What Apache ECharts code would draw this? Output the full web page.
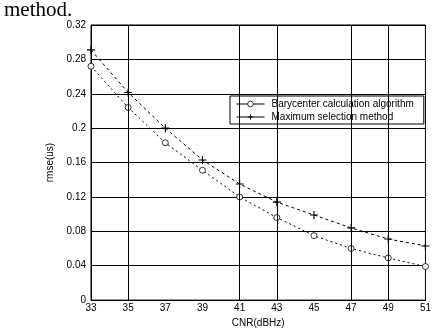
<!DOCTYPE html>
<html><head><meta charset="utf-8">
<script src="https://cdn.jsdelivr.net/npm/echarts@6/dist/echarts.min.js"></script>
<style>html,body{margin:0;padding:0;background:#fff}#c{width:434px;height:333px}</style>
</head><body><div id="c"></div>
<script>
var cnr = [33, 35, 37, 39, 41, 43, 45, 47, 49, 51];
var barycenter = [0.272, 0.224, 0.183, 0.151, 0.120, 0.096, 0.075, 0.060, 0.049, 0.039];
var maxSelection = [0.291, 0.2415, 0.200, 0.163, 0.135, 0.114, 0.099, 0.084, 0.071, 0.063];
var vGridAt = [35, 41, 43, 47, 49];
var yTicks = ['0', '0.04', '0.08', '0.12', '0.16', '0.2', '0.24', '0.28', '0.32'];

function pairs(xs, ys) { return xs.map(function (x, i) { return [x, ys[i]]; }); }
var plusPath = 'path://M-0.7,-5H0.7V-0.7H5V0.7H0.7V5H-0.7V0.7H-5V-0.7H-0.7Z';
var font = 'Liberation Sans, Arial, sans-serif';

var chart = echarts.init(document.getElementById('c'));
chart.setOption({
  animation: false,
  backgroundColor: '#fff',
  title: {
    text: 'method.', left: -1, top: -5,
    textStyle: { fontFamily: 'Liberation Serif, Times New Roman, serif', fontSize: 21, fontWeight: 'normal', color: '#000' }
  },
  grid: { left: 91, right: 4, top: 25, bottom: 27, show: true, borderColor: '#000', borderWidth: 1 },
  legend: {
    orient: 'vertical', left: 230, top: 96,
    backgroundColor: '#fff', borderColor: '#000', borderWidth: 1, borderRadius: 0,
    padding: [3, 10, 2, 6], itemGap: 3, itemWidth: 28, itemHeight: 7,
    lineStyle: { type: 'solid', width: 1 },
    itemStyle: { borderWidth: 0.8 },
    textStyle: { fontFamily: font, fontSize: 10, color: '#000', padding: [0, 0, 0, 2] },
    data: [{ name: 'Barycenter calculation algorithm' }, { name: 'Maximum selection method' }]
  },
  xAxis: {
    type: 'value', min: 33, max: 51, interval: 2,
    name: 'CNR(dBHz)', nameLocation: 'middle', nameGap: 16,
    nameTextStyle: { fontFamily: font, fontSize: 10, color: '#000' },
    axisLine: { show: true, lineStyle: { color: '#000', width: 1 } },
    axisTick: { show: false }, splitLine: { show: false },
    axisLabel: { fontFamily: font, fontSize: 10, color: '#000', margin: 3 }
  },
  yAxis: {
    type: 'value', min: 0, max: 0.32, interval: 0.04,
    name: 'rmse(us)', nameLocation: 'middle', nameGap: 25,
    nameTextStyle: { fontFamily: font, fontSize: 10, color: '#000' },
    axisLine: { show: true, lineStyle: { color: '#000', width: 1 } },
    axisTick: { show: false },
    splitLine: { show: true, lineStyle: { color: '#000', width: 1 } },
    axisLabel: { fontFamily: font, fontSize: 10, color: '#000', margin: 5,
      formatter: function (v) { return yTicks[Math.round(v / 0.04)]; } }
  },
  series: [
    {
      name: 'Barycenter calculation algorithm', type: 'line',
      data: pairs(cnr, barycenter),
      symbol: 'circle', symbolSize: 6,
      itemStyle: { color: '#fff', borderColor: '#000', borderWidth: 0.8 },
      lineStyle: { color: '#000', width: 1, type: [2, 3] },
      markLine: {
        silent: true, symbol: 'none', label: { show: false },
        lineStyle: { color: '#000', width: 1, type: 'solid' },
        data: vGridAt.map(function (x) { return { xAxis: x }; })
      }
    },
    {
      name: 'Maximum selection method', type: 'line',
      data: pairs(cnr, maxSelection),
      symbol: plusPath, symbolSize: 8,
      itemStyle: { color: '#000' },
      lineStyle: { color: '#000', width: 1, type: [3, 3] }
    }
  ]
});
</script></body></html>
